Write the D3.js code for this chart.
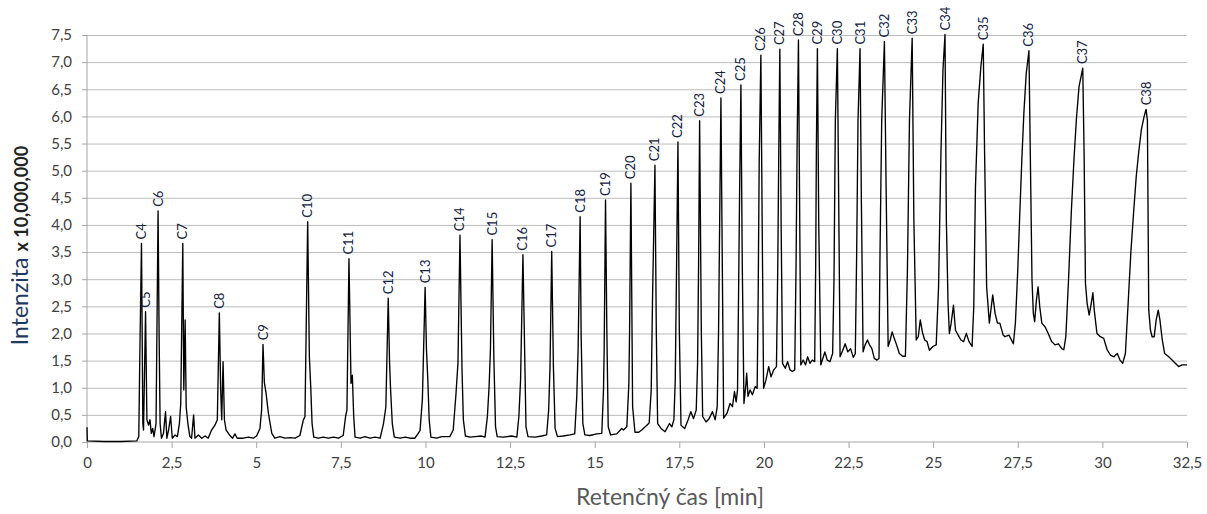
<!DOCTYPE html>
<html>
<head>
<meta charset="utf-8">
<script src="https://cdn.jsdelivr.net/npm/d3@7/dist/d3.min.js"></script>
<style>
  body { margin: 0; background: #fff; }
  #chart { width: 1207px; height: 514px; }
  .axis text { font-family: Lato, "Open Sans", sans-serif; font-size: 15px; fill: #404040; }
  .axis path, .axis line { stroke: #a6a6a6; }
  .grid line { stroke: #bcbcbc; }
  .grid path { display: none; }
  .peak-label { font-family: Lato, "Open Sans", sans-serif; font-size: 13px; fill: #14233f; }
</style>
</head>
<body>
<div id="chart"></div>
<script>
// chromatogram trace, [retention time (min), intensity (x 10,000,000)]
var tracePoints = [
  [0,0.27],[0.01,0.02],[0.5,0.01],[1.0,0.01],[1.47,0.02],[1.53,0.10],[1.56,1.57],[1.61,3.66],[1.65,0.34],[1.67,0.22],
  [1.73,2.40],[1.77,0.41],[1.82,0.31],[1.86,0.41],[1.90,0.16],[1.94,0.25],[1.98,0.10],[2.04,0.34],[2.10,4.26],[2.13,2.00],
  [2.16,0.34],[2.20,0.07],[2.26,0.16],[2.32,0.56],[2.36,0.07],[2.41,0.22],[2.47,0.47],[2.52,0.07],[2.60,0.13],[2.67,0.10],
  [2.73,0.34],[2.77,0.71],[2.83,3.66],[2.86,0.96],[2.90,2.25],[2.93,0.65],[2.98,0.34],[3.04,0.10],[3.09,0.07],[3.15,0.50],
  [3.19,0.07],[3.29,0.13],[3.39,0.07],[3.49,0.11],[3.58,0.07],[3.68,0.22],[3.78,0.31],[3.85,0.41],[3.91,2.38],[3.95,0.96],
  [3.98,0.41],[4.02,1.48],[4.06,0.41],[4.11,0.22],[4.21,0.13],[4.30,0.07],[4.37,0.15],[4.44,0.07],[4.62,0.07],[4.77,0.09],
  [4.91,0.07],[5.01,0.11],[5.11,0.25],[5.16,0.60],[5.20,1.80],[5.24,1.10],[5.29,0.90],[5.36,0.53],[5.46,0.16],[5.55,0.07],
  [5.70,0.10],[5.85,0.07],[6.00,0.08],[6.15,0.07],[6.29,0.12],[6.39,0.40],[6.44,0.47],[6.52,4.06],[6.57,1.57],[6.61,1.02],
  [6.65,0.34],[6.70,0.09],[6.84,0.07],[6.98,0.09],[7.13,0.07],[7.28,0.09],[7.43,0.07],[7.57,0.12],[7.64,0.47],[7.68,0.59],
  [7.74,3.38],[7.80,1.08],[7.84,1.23],[7.88,0.47],[7.92,0.09],[8.07,0.07],[8.21,0.10],[8.36,0.07],[8.51,0.09],[8.66,0.07],
  [8.76,0.34],[8.83,0.65],[8.90,2.65],[8.94,1.45],[8.97,0.96],[9.02,0.34],[9.08,0.09],[9.25,0.07],[9.40,0.09],[9.54,0.07],
  [9.69,0.07],[9.84,0.21],[9.91,0.80],[9.99,2.85],[10.03,1.70],[10.07,1.14],[10.11,0.41],[10.16,0.09],[10.33,0.07],[10.48,0.10],
  [10.72,0.10],[10.82,0.22],[10.90,0.87],[10.96,1.45],[11.02,3.81],[11.08,1.33],[11.12,0.41],[11.18,0.11],[11.32,0.09],[11.46,0.10],
  [11.66,0.11],[11.76,0.09],[11.83,0.47],[11.88,1.02],[11.92,1.70],[11.97,3.73],[12.02,1.57],[12.07,0.28],[12.12,0.10],[12.30,0.09],
  [12.55,0.11],[12.70,0.09],[12.76,0.47],[12.81,1.14],[12.88,3.45],[12.93,1.70],[12.97,0.28],[13.03,0.10],[13.24,0.09],[13.43,0.11],
  [13.58,0.13],[13.64,0.59],[13.68,1.39],[13.73,3.51],[13.78,1.39],[13.83,0.25],[13.90,0.10],[14.07,0.11],[14.27,0.13],[14.41,0.15],
  [14.47,0.83],[14.51,1.70],[14.57,4.15],[14.60,1.94],[14.65,0.34],[14.71,0.13],[14.86,0.12],[15.06,0.15],[15.21,0.16],[15.26,0.96],
  [15.28,1.70],[15.32,4.46],[15.36,2.00],[15.40,0.28],[15.47,0.13],[15.65,0.15],[15.80,0.25],[15.85,0.22],[15.95,0.28],[16.01,1.08],
  [16.03,2.00],[16.07,4.77],[16.12,0.65],[16.19,0.18],[16.30,0.18],[16.39,0.22],[16.54,0.31],[16.61,0.35],[16.67,0.96],[16.71,2.68],
  [16.78,5.10],[16.82,2.06],[16.86,0.34],[16.96,0.25],[17.08,0.19],[17.21,0.34],[17.28,0.28],[17.34,0.41],[17.38,1.14],[17.42,3.29],
  [17.46,5.53],[17.50,2.06],[17.55,0.31],[17.66,0.25],[17.76,0.41],[17.84,0.56],[17.92,0.43],[18.00,0.59],[18.04,1.45],[18.07,3.29],
  [18.10,5.92],[18.15,2.06],[18.19,0.47],[18.29,0.37],[18.38,0.43],[18.48,0.56],[18.56,0.41],[18.62,0.65],[18.66,2.06],[18.69,3.91],
  [18.73,6.34],[18.77,3.29],[18.81,0.44],[18.91,0.53],[19.00,0.71],[19.07,0.65],[19.13,0.93],[19.18,0.74],[19.22,0.96],[19.25,2.68],
  [19.28,4.52],[19.32,6.58],[19.36,3.29],[19.41,0.71],[19.47,1.08],[19.49,1.27],[19.53,0.84],[19.59,0.96],[19.66,0.87],[19.74,1.02],
  [19.80,0.99],[19.83,2.68],[19.86,5.14],[19.91,7.13],[19.95,3.91],[19.99,0.99],[20.06,1.14],[20.14,1.39],[20.21,1.20],[20.29,1.33],
  [20.37,1.39],[20.41,3.29],[20.44,5.44],[20.47,7.24],[20.51,3.91],[20.55,1.45],[20.63,1.36],[20.70,1.48],[20.77,1.33],[20.84,1.30],
  [20.91,1.33],[20.95,3.29],[20.98,5.44],[21.02,7.41],[21.06,3.91],[21.09,1.42],[21.16,1.51],[21.23,1.42],[21.29,1.57],[21.36,1.45],
  [21.43,1.51],[21.50,1.48],[21.53,3.29],[21.55,5.44],[21.58,7.25],[21.62,4.00],[21.68,1.42],[21.74,1.54],[21.80,1.66],[21.87,1.51],
  [21.95,1.48],[22.03,1.63],[22.07,2.99],[22.11,5.93],[22.17,7.25],[22.21,4.40],[22.25,1.57],[22.33,1.69],[22.40,1.81],[22.48,1.66],
  [22.56,1.72],[22.64,1.56],[22.70,1.63],[22.74,3.48],[22.78,5.93],[22.84,7.25],[22.88,4.40],[22.93,1.66],[22.99,1.79],[23.06,1.88],
  [23.12,1.79],[23.19,1.72],[23.26,1.54],[23.34,1.51],[23.40,1.54],[23.43,3.48],[23.48,5.93],[23.56,7.38],[23.61,4.70],[23.67,1.76],
  [23.73,1.88],[23.79,2.03],[23.85,1.91],[23.92,1.79],[24.00,1.63],[24.10,1.58],[24.18,1.58],[24.24,3.17],[24.30,5.93],[24.38,7.44],
  [24.43,4.09],[24.50,1.88],[24.56,1.94],[24.62,2.25],[24.68,2.03],[24.75,1.88],[24.82,1.85],[24.89,1.69],[24.99,1.76],[25.09,1.79],
  [25.16,2.86],[25.23,5.32],[25.29,6.86],[25.35,7.51],[25.39,4.09],[25.44,2.55],[25.48,2.00],[25.53,2.18],[25.60,2.52],[25.66,2.06],
  [25.74,1.97],[25.82,1.88],[25.90,1.85],[25.98,2.00],[26.06,1.85],[26.15,1.76],[26.20,2.49],[26.25,4.70],[26.33,6.24],[26.41,6.92],
  [26.48,7.33],[26.52,5.32],[26.58,2.86],[26.66,2.19],[26.76,2.71],[26.83,2.37],[26.90,2.19],[26.97,2.19],[27.07,1.97],[27.12,1.94],
  [27.24,1.97],[27.37,1.81],[27.43,2.19],[27.50,3.17],[27.56,4.21],[27.62,5.20],[27.68,6.06],[27.75,6.79],[27.83,7.21],[27.87,5.32],
  [27.92,2.99],[27.96,2.37],[28.00,2.22],[28.05,2.61],[28.10,2.86],[28.15,2.49],[28.21,2.19],[28.31,2.12],[28.40,2.00],[28.50,1.85],
  [28.60,1.79],[28.70,1.81],[28.80,1.72],[28.86,1.70],[28.92,1.94],[29.00,2.99],[29.08,4.21],[29.16,5.20],[29.23,5.93],[29.31,6.55],
  [29.42,6.89],[29.46,5.32],[29.50,2.92],[29.55,2.55],[29.61,2.34],[29.67,2.55],[29.72,2.75],[29.76,2.43],[29.84,2.00],[29.94,1.94],
  [30.04,1.91],[30.14,1.70],[30.24,1.60],[30.34,1.57],[30.44,1.63],[30.52,1.51],[30.60,1.45],[30.68,1.63],[30.76,2.55],[30.84,3.48],
  [30.92,4.21],[31.00,4.89],[31.07,5.32],[31.15,5.75],[31.23,5.99],[31.29,6.13],[31.33,5.93],[31.37,2.43],[31.42,2.06],[31.47,1.94],
  [31.53,1.94],[31.59,2.25],[31.65,2.43],[31.70,2.25],[31.77,1.88],[31.84,1.63],[31.96,1.57],[32.11,1.48],[32.25,1.39],[32.35,1.42],
  [32.50,1.42]
];

// labelled n-alkane peaks and their apex times
var peakLabels = ["C4","C5","C6","C7","C8","C9","C10","C11","C12","C13","C14","C15","C16","C17","C18","C19","C20",
  "C21","C22","C23","C24","C25","C26","C27","C28","C29","C30","C31","C32","C33","C34","C35","C36","C37","C38"];
var peakTimes = [1.61,1.73,2.10,2.83,3.91,5.20,6.52,7.74,8.90,9.99,11.02,11.97,12.88,13.73,14.57,15.32,16.07,
  16.78,17.46,18.10,18.73,19.32,19.91,20.47,21.02,21.58,22.17,22.84,23.56,24.38,25.35,26.48,27.83,29.42,31.29];

var xTicks = [0,2.5,5,7.5,10,12.5,15,17.5,20,22.5,25,27.5,30,32.5];
var yTicks = [0,0.5,1,1.5,2,2.5,3,3.5,4,4.5,5,5.5,6,6.5,7,7.5];

var margin = {top: 35, right: 20, bottom: 72, left: 87},
    width = 1207 - margin.left - margin.right,
    height = 514 - margin.top - margin.bottom;

var svg = d3.select("#chart")
  .append("svg")
  .attr("width", 1207)
  .attr("height", 514)
  .append("g")
  .attr("transform", "translate(" + margin.left + "," + margin.top + ")");

var x = d3.scaleLinear().domain([0, 32.5]).range([0, width]);
var y = d3.scaleLinear().domain([0, 7.5]).range([height, 0]);

function comma(v, digits) {
  return (digits == null ? String(v) : v.toFixed(digits)).replace(".", ",");
}

// horizontal gridlines
svg.append("g")
  .attr("class", "grid")
  .call(d3.axisLeft(y).tickValues(yTicks.slice(1)).tickSize(-width).tickFormat(""));

// y axis
svg.append("g")
  .attr("class", "axis")
  .call(d3.axisLeft(y).tickValues(yTicks).tickSize(5).tickPadding(10)
    .tickFormat(function(d) { return comma(d, 1); }))
  .call(function(g) { g.select(".domain").attr("d", "M0," + height + "V0"); });

// x axis
svg.append("g")
  .attr("class", "axis")
  .attr("transform", "translate(0," + height + ")")
  .call(d3.axisBottom(x).tickValues(xTicks).tickSize(6).tickPadding(9)
    .tickFormat(function(d) { return comma(d); }))
  .call(function(g) { g.select(".domain").attr("d", "M0,0H" + width); });

// trace
var line = d3.line()
  .x(function(d) { return x(d[0]); })
  .y(function(d) { return y(d[1]); });

svg.append("path")
  .attr("d", line(tracePoints))
  .attr("fill", "none")
  .attr("stroke", "#000")
  .attr("stroke-width", 1.35)
  .attr("stroke-linejoin", "round");

// peak labels, rotated, sitting on each apex
var apexValue = function(t) {
  var p = tracePoints.find(function(d) { return d[0] === t; });
  return p ? p[1] : 0;
};

svg.selectAll(".peak-label")
  .data(peakLabels)
  .enter().append("text")
  .attr("class", "peak-label")
  .attr("transform", function(d, i) {
    return "translate(" + (x(peakTimes[i]) + 4.5) + "," + (y(apexValue(peakTimes[i])) - 4) + ") rotate(-90)";
  })
  .attr("text-anchor", "start")
  .text(function(d) { return d; });

// axis titles
svg.append("text")
  .attr("x", width / 2 + 33)
  .attr("y", height + 63)
  .attr("text-anchor", "middle")
  .style("font-family", "Lato, 'Open Sans', sans-serif")
  .style("font-size", "23px")
  .style("fill", "#595959")
  .text("Retenčný čas [min]");

var yTitle = svg.append("text")
  .attr("transform", "translate(" + (-59) + "," + (height / 2 + 7) + ") rotate(-90)")
  .attr("text-anchor", "middle")
  .style("font-family", "Lato, 'Open Sans', sans-serif")
  .style("fill", "#1f3a60");
yTitle.append("tspan").style("font-size", "23px").text("Intenzita  ");
yTitle.append("tspan").style("font-size", "18px").style("font-weight", "bold").style("fill", "#222").text("x 10,000,000");
</script>
</body>
</html>
